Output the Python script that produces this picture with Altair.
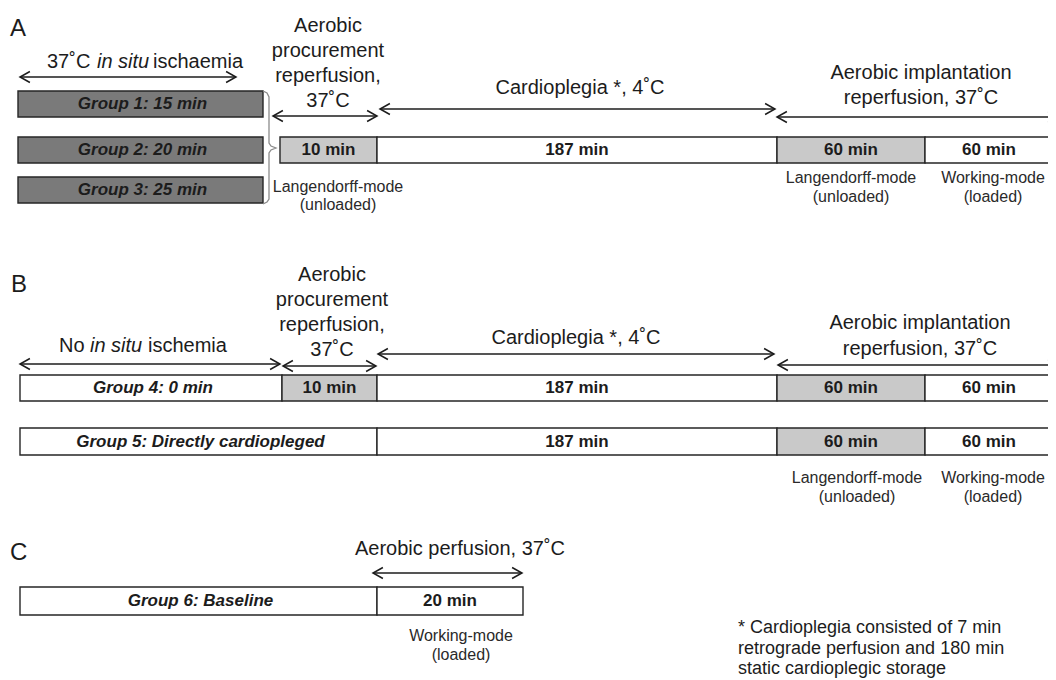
import altair as alt
import pandas as pd

# ---------------- content ----------------
panel_letters = ["A", "B", "C"]

group_names = ["Group 1: 15 min", "Group 2: 20 min", "Group 3: 25 min",
               "Group 4: 0 min", "Group 5: Directly cardiopleged", "Group 6: Baseline"]

procurement_label = "10 min"
cardioplegia_label = "187 min"
langendorff_label = "60 min"
working_label = "60 min"
baseline_perfusion_label = "20 min"

procurement_title = ["Aerobic", "procurement", "reperfusion,", "37˚C"]
cardioplegia_title = "Cardioplegia *, 4˚C"
implantation_title = ["Aerobic implantation", "reperfusion, 37˚C"]
baseline_title = "Aerobic perfusion, 37˚C"
ischaemia_title_A = ["37˚C", "in situ", "ischaemia"]
ischaemia_title_B = ["No", "in situ", "ischemia"]
langendorff_mode = ["Langendorff-mode", "(unloaded)"]
working_mode = ["Working-mode", "(loaded)"]
footnote = ["* Cardioplegia consisted of 7 min",
            "retrograde perfusion and 180 min",
            "static cardioplegic storage"]

# ---------------- schematic layout (pixel grid, not to scale) ----------------
FONT = "Liberation Sans"
INK = "#1c1c1c"
DARK, LIGHT, WHITE = "#7a7a7a", "#c9c9c9", "#ffffff"

C_ISC0, C_ISC1 = 18, 263
C_START_B = 20
C_PROC_A, C_PROC_B = 280, 282
C_CARDIO, C_LANG, C_WORK, C_END = 377, 777, 925, 1059
C_BASE_END = 523

rows = {"A1": (91, 117), "A2": (137, 163), "A3": (177, 203),
        "B4": (375, 401), "B5": (428, 455), "C6": (587, 615)}

segments = [
    ("A1", C_ISC0, C_ISC1, group_names[0], DARK, "group"),
    ("A2", C_ISC0, C_ISC1, group_names[1], DARK, "group"),
    ("A3", C_ISC0, C_ISC1, group_names[2], DARK, "group"),
    ("A2", C_PROC_A, C_CARDIO, procurement_label, LIGHT, "dur"),
    ("A2", C_CARDIO, C_LANG, cardioplegia_label, WHITE, "dur"),
    ("A2", C_LANG, C_WORK, langendorff_label, LIGHT, "dur"),
    ("A2", C_WORK, C_END, working_label, WHITE, "dur"),
    ("B4", C_START_B, C_PROC_B, group_names[3], WHITE, "group"),
    ("B4", C_PROC_B, C_CARDIO, procurement_label, LIGHT, "dur"),
    ("B4", C_CARDIO, C_LANG, cardioplegia_label, WHITE, "dur"),
    ("B4", C_LANG, C_WORK, langendorff_label, LIGHT, "dur"),
    ("B4", C_WORK, C_END, working_label, WHITE, "dur"),
    ("B5", C_START_B, C_CARDIO, group_names[4], WHITE, "group"),
    ("B5", C_CARDIO, C_LANG, cardioplegia_label, WHITE, "dur"),
    ("B5", C_LANG, C_WORK, langendorff_label, LIGHT, "dur"),
    ("B5", C_WORK, C_END, working_label, WHITE, "dur"),
    ("C6", C_START_B, C_CARDIO, group_names[5], WHITE, "group"),
    ("C6", C_CARDIO, C_BASE_END, baseline_perfusion_label, WHITE, "dur"),
]
seg = pd.DataFrame([
    {"x0": a, "x1": b, "y0": rows[r][0], "y1": rows[r][1],
     "xc": (a + b) / 2 + (2 if s == "group" else 0) - (3 if b == C_END else 0),
     "yc": (rows[r][0] + rows[r][1]) / 2,
     "label": lab, "fill": f, "style": s}
    for r, a, b, lab, f, s in segments])

arrows = pd.DataFrame(
    [(20, 236, 77), (273, 377, 116), (380, 775, 109), (777, 1058, 117),
     (20, 280, 364), (283, 376, 366), (378, 774, 354), (778, 1058, 365),
     (373, 522, 573)], columns=["xa", "xb", "y"])

titles = pd.DataFrame(
    [(328, 26 + 25 * i, t) for i, t in enumerate(procurement_title)] +
    [(332, 275 + 25 * i, t) for i, t in enumerate(procurement_title)] +
    [(580, 88, cardioplegia_title), (576, 338, cardioplegia_title),
     (921, 73, implantation_title[0]), (921, 98, implantation_title[1]),
     (920, 323, implantation_title[0]), (920, 349, implantation_title[1]),
     (460, 549, baseline_title)], columns=["x", "y", "t"])

isc_pos = [(47, 62), (97, 62), (153, 62), (59, 346), (90, 346), (148, 346)]
isc_words = ischaemia_title_A + ischaemia_title_B
isc = pd.DataFrame({"x": [p[0] for p in isc_pos], "y": [p[1] for p in isc_pos],
                    "t": isc_words, "it": [i % 3 == 1 for i in range(6)]})

sub = pd.DataFrame(
    [(338, 187, langendorff_mode[0]), (338, 205, langendorff_mode[1]),
     (851, 178, langendorff_mode[0]), (851, 197, langendorff_mode[1]),
     (993, 178, working_mode[0]), (993, 197, working_mode[1]),
     (857, 478, langendorff_mode[0]), (857, 497, langendorff_mode[1]),
     (993, 478, working_mode[0]), (993, 497, working_mode[1]),
     (461, 636, working_mode[0]), (461, 655, working_mode[1])],
    columns=["x", "y", "t"])

letters = pd.DataFrame({"x": [10, 11, 10], "y": [36, 292, 560], "t": panel_letters})
foot = pd.DataFrame({"x": [738] * 3, "y": [628, 649, 669], "t": footnote})

brace_x = [263, 267, 269, 269, 271, 276, 271, 269, 269, 267, 263]
brace_y = [91, 93, 97, 143, 146, 148, 150, 153, 199, 202, 204]
brace = pd.DataFrame({"x": brace_x, "y": brace_y, "i": range(len(brace_x))})

# ---------------- chart ----------------
XS = alt.Scale(domain=[8, 1048], nice=False, zero=False)
YS = alt.Scale(domain=[8, 680], nice=False, zero=False, reverse=True)


def X(f):
    return alt.X(f, type="quantitative", scale=XS, axis=None)


def Y(f):
    return alt.Y(f, type="quantitative", scale=YS, axis=None)


rects = alt.Chart(seg).mark_rect(stroke="#262626", strokeWidth=1.4, clip=True).encode(
    x=X("x0"), x2="x1", y=Y("y0"), y2="y1", fill=alt.Fill("fill:N", scale=None))

group_txt = alt.Chart(seg).transform_filter(alt.datum.style == "group").mark_text(
    font=FONT, fontSize=17, fontWeight="bold", fontStyle="italic", color=INK,
    baseline="middle").encode(x=X("xc"), y=Y("yc"), text="label:N")

dur_txt = alt.Chart(seg).transform_filter(alt.datum.style == "dur").mark_text(
    font=FONT, fontSize=17, fontWeight="bold", color=INK, baseline="middle",
    clip=True).encode(x=X("xc"), y=Y("yc"), text="label:N")

rules = alt.Chart(arrows).mark_rule(color=INK, strokeWidth=1.5, clip=True).encode(
    x=X("xa"), x2="xb", y=Y("y"))

left_heads = alt.Chart(arrows).mark_point(
    shape="M 1.8 -1 L 0 0 L 1.8 1", size=121, filled=False, color=INK,
    strokeWidth=1.5, opacity=1, clip=True).encode(x=X("xa"), y=Y("y"))
right_heads = alt.Chart(arrows).mark_point(
    shape="M -1.8 -1 L 0 0 L -1.8 1", size=121, filled=False, color=INK,
    strokeWidth=1.5, opacity=1, clip=True).encode(x=X("xb"), y=Y("y"))

title_txt = alt.Chart(titles).mark_text(
    font=FONT, fontSize=20, color=INK, baseline="middle").encode(
    x=X("x"), y=Y("y"), text="t:N")

isc_reg = alt.Chart(isc).transform_filter(~alt.datum.it).mark_text(
    font=FONT, fontSize=20, color=INK, baseline="middle", align="left").encode(
    x=X("x"), y=Y("y"), text="t:N")
isc_it = alt.Chart(isc).transform_filter(alt.datum.it).mark_text(
    font=FONT, fontSize=20, color=INK, baseline="middle", align="left",
    fontStyle="italic").encode(x=X("x"), y=Y("y"), text="t:N")

sub_txt = alt.Chart(sub).mark_text(
    font=FONT, fontSize=16, color="#2a2a2a", baseline="middle").encode(
    x=X("x"), y=Y("y"), text="t:N")

letter_txt = alt.Chart(letters).mark_text(
    font=FONT, fontSize=24, color=INK, baseline="alphabetic", align="left").encode(
    x=X("x"), y=Y("y"), text="t:N")

foot_txt = alt.Chart(foot).mark_text(
    font=FONT, fontSize=18, color=INK, baseline="middle", align="left").encode(
    x=X("x"), y=Y("y"), text="t:N")

brace_line = alt.Chart(brace).mark_line(color="#8c8c8c", strokeWidth=1.3).encode(
    x=X("x"), y=Y("y"), order="i:Q")

chart = alt.layer(
    rects, brace_line, rules, left_heads, right_heads, group_txt, dur_txt,
    title_txt, isc_reg, isc_it, sub_txt, letter_txt, foot_txt
).properties(
    width=1040, height=672, padding=0, autosize="none", background="white"
).configure_view(stroke=None)

chart.save("out.html", embed_options={"renderer": "svg", "actions": False})
